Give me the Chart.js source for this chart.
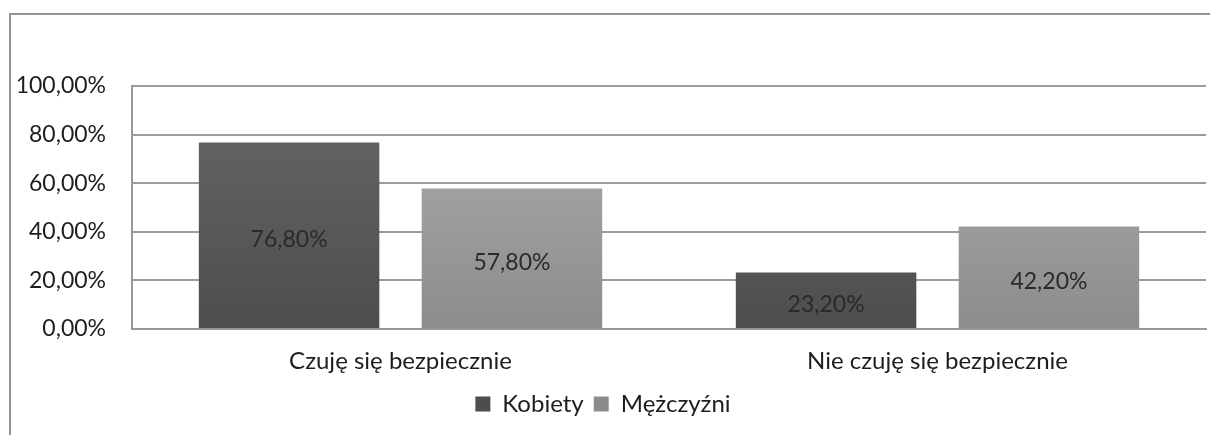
<!doctype html>
<html lang="pl">
<head>
<meta charset="UTF-8" />
<title>Poczucie bezpieczeństwa</title>
<style>
  body{margin:0;background:#fff;}
  #wrap{position:relative;width:1210px;height:435px;overflow:hidden;}
  #frame{position:absolute;left:9px;top:13px;width:1300px;height:500px;border-left:2px solid #939393;border-top:2px solid #939393;}
  #canvas{position:absolute;left:0;top:0;}
</style>
</head>
<body>
<div id="wrap">
  <div id="frame"></div>
  <canvas id="canvas" width="1210" height="435"></canvas>
</div>

<script src="https://cdn.jsdelivr.net/npm/chart.js"></script>
<script>
const categories = ['Czuję się bezpiecznie', 'Nie czuję się bezpiecznie']
const kobiety = [76.8, 23.2]
const mezczyzni = [57.8, 42.2]
const yTicks = [0, 20, 40, 60, 80, 100]

const FONT = 'Lato, "Open Sans", sans-serif'
function pct(v){ return v.toFixed(2).replace('.', ',') + '%' }

function grad(top, bottom){
  return ctx => {
    const area = ctx.chart.chartArea
    if(!area) return bottom
    const g = ctx.chart.ctx.createLinearGradient(0, area.top, 0, area.bottom)
    g.addColorStop(0, top)
    g.addColorStop(1, bottom)
    return g
  }
}

// value text in the middle of each bar
const barLabels = {
  id: 'barLabels',
  afterDatasetsDraw(chart){
    const {ctx} = chart
    ctx.save()
    ctx.font = '23px ' + FONT
    ctx.fillStyle = '#2a2a2a'
    ctx.textAlign = 'center'
    ctx.textBaseline = 'middle'
    chart.data.datasets.forEach((ds, i) => {
      chart.getDatasetMeta(i).data.forEach((bar, j) => {
        ctx.fillText(pct(ds.data[j]), bar.x, (bar.y + bar.base) / 2 + 4)
      })
    })
    ctx.restore()
  }
}

new Chart(document.getElementById('canvas'), {
  type: 'bar',
  data: {
    labels: categories,
    datasets: [
      { label: 'Kobiety', data: kobiety, backgroundColor: grad('#67686a', '#4c4d4f') },
      { label: 'Mężczyźni', data: mezczyzni, backgroundColor: grad('#adaeb0', '#8b8c8e') }
    ]
  },
  options: {
    responsive: false,
    animation: false,
    categoryPercentage: 0.83,
    barPercentage: 0.81,
    layout: { padding: { top: 86, right: 4, left: 0, bottom: 9 } },
    plugins: {
      tooltip: { enabled: false },
      legend: {
        position: 'bottom',
        labels: {
          font: { size: 24, family: FONT },
          color: '#1e1e1e',
          boxWidth: 15,
          boxHeight: 15,
          padding: 10
        }
      }
    },
    scales: {
      x: {
        grid: { display: false },
        border: { color: '#999', width: 2 },
        ticks: { font: { size: 24, family: FONT }, color: '#1e1e1e', padding: 10 },
        afterFit: s => { s.height = 53 }
      },
      y: {
        min: 0, max: 100,
        afterBuildTicks: s => { s.ticks = yTicks.map(v => ({ value: v })) },
        grid: { color: '#9c9c9c', lineWidth: 2, drawTicks: false },
        border: { color: '#999', width: 2 },
        ticks: { font: { size: 23, family: FONT }, color: '#1e1e1e', padding: 26, callback: v => pct(v) },
        afterFit: s => { s.width = 132 }
      }
    }
  },
  plugins: [barLabels]
})
</script>
</body>
</html>
